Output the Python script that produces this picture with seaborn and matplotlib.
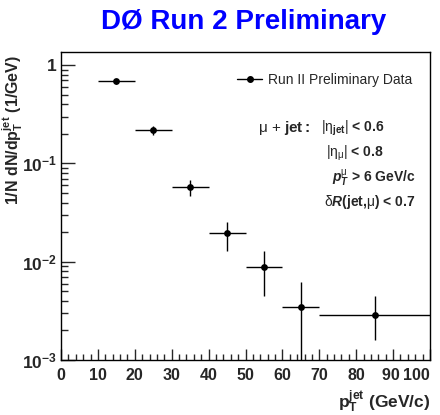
import matplotlib
matplotlib.use("Agg")
import numpy as np
import pandas as pd
import seaborn as sns
import matplotlib.pyplot as plt
from matplotlib.lines import Line2D
from matplotlib.ticker import FixedLocator, LogLocator, MultipleLocator, NullFormatter, FixedFormatter

# ---- data ----
pt_center = [15, 25, 35, 45, 55, 65, 85]
pt_halfwidth = [5, 5, 5, 5, 5, 5, 15]
dndpt = [0.682, 0.217, 0.058, 0.0194, 0.0088, 0.0035, 0.0029]
dndpt_hi = [0.72, 0.239, 0.0684, 0.0255, 0.0130, 0.0062, 0.0045]
dndpt_lo = [0.645, 0.195, 0.0468, 0.0130, 0.0045, 0.0001, 0.0016]
x_ticks = [0, 10, 20, 30, 40, 50, 60, 70, 80, 90, 100]
x_ticklabels = ["0", "10", "20", "30", "40", "50", "60", "70", "80", "90 ", "100"]
y_ticks = [1e-3, 1e-2, 1e-1, 1]
y_ticklabels = [r"$\mathbf{10^{-3}}$", r"$\mathbf{10^{-2}}$", r"$\mathbf{10^{-1}}$", "1"]
legend_label = "Run II Preliminary Data"
title = "DØ Run 2 Preliminary"

sns.set_style("ticks")
plt.rcParams["font.family"] = ["Liberation Sans", "DejaVu Sans"]
plt.rcParams["mathtext.fontset"] = "custom"
plt.rcParams["mathtext.rm"] = "Liberation Sans"
plt.rcParams["mathtext.it"] = "Liberation Sans:italic"
plt.rcParams["mathtext.bf"] = "Liberation Sans:bold"
plt.rcParams["mathtext.bfit"] = "Liberation Sans:bold:italic"
plt.rcParams["mathtext.sf"] = "Liberation Sans"

W, H = 440, 415
fig = plt.figure(figsize=(W / 100, H / 100), dpi=100)
ax = fig.add_axes([61 / W, 55 / H, 369 / W, 308 / H])

df = pd.DataFrame({"pt": pt_center, "y": dndpt})
y = np.array(dndpt)
yerr = [y - np.array(dndpt_lo), np.array(dndpt_hi) - y]
ax.errorbar(pt_center, dndpt, xerr=pt_halfwidth, yerr=yerr, fmt="none",
            ecolor="black", elinewidth=1.0, capsize=0)
sns.scatterplot(data=df, x="pt", y="y", ax=ax, color="black", s=24,
                edgecolor="black", linewidth=0, zorder=5)

ax.set_yscale("log")
ax.set_xlim(0, 100)
ax.set_ylim(1e-3, 1.36)

ax.xaxis.set_major_locator(FixedLocator(x_ticks))
ax.xaxis.set_minor_locator(MultipleLocator(2))
ax.set_xticklabels(x_ticklabels, fontweight="bold", fontsize=11.5)
ax.get_xticklabels()[-1].set_horizontalalignment("right")
ax.yaxis.set_major_locator(FixedLocator(y_ticks))
ax.yaxis.set_major_formatter(FixedFormatter(y_ticklabels))
ax.yaxis.set_minor_locator(LogLocator(base=10, subs=np.arange(2, 10)))
ax.yaxis.set_minor_formatter(NullFormatter())
for lab in ax.get_yticklabels():
    lab.set_fontweight("bold")
    lab.set_fontsize(12.5)

ax.tick_params(axis="x", which="major", direction="in", length=8, width=1, pad=6)
ax.tick_params(axis="x", which="minor", direction="in", length=4, width=1)
ax.tick_params(axis="y", which="major", direction="in", length=10, width=1, pad=3)
ax.tick_params(axis="y", which="minor", direction="in", length=5, width=1)
ax.tick_params(top=False, right=False, which="both")
for s in ax.spines.values():
    s.set_visible(True)
    s.set_linewidth(1.0)
    s.set_color("black")
ax.set_xlabel("")
ax.set_ylabel("")

def ft(x, yy, s, **kw):
    return fig.text(x / W, 1 - yy / H, s, **kw)

ft(430, 402, r"p$_{\mathbf{T}}^{\mathbf{jet}}$ (GeV/c)", fontweight="bold", fontsize=12.5,
   ha="right", va="center")
ft(12.5, 55, r"1/N dN/dp$_{\mathbf{T}}^{\mathbf{jet}}$ (1/GeV)", fontweight="bold", fontsize=11.5,
   rotation=90, ha="center", va="top")

ft(244, 22, title, color="#0000ff", fontsize=20, fontweight="bold", ha="center", va="center")

handle = Line2D([], [], color="black", marker="o", markersize=4, lw=1)
ax.legend([handle], [legend_label], loc="upper left",
          bbox_to_anchor=((237 - 61) / 369, 1 - (73 - 52) / 308),
          frameon=False, fontsize=10, handlelength=1.8, handletextpad=0.45,
          borderaxespad=0, borderpad=0)

ft(258, 128, r"$\mathrm{\mu}$ + $\mathbf{jet:}$", fontsize=11, ha="left", va="center")
ft(384, 128, r"$|\mathrm{\eta}_{\mathbf{jet}}|$ < 0.6", fontsize=10, fontweight="bold", ha="right", va="center")
ft(384, 153, r"$|\mathrm{\eta}_{\mathrm{\mu}}|$ < 0.8", fontsize=10, fontweight="bold", ha="right", va="center")
ft(416, 178, r"$\mathbfit{p}_{\mathbfit{T}}^{\mathrm{\mu}}$ > 6 GeV/c", fontsize=10, fontweight="bold", ha="right", va="center")
ft(416, 202, r"$\mathrm{\delta}\mathbfit{R}$(jet,$\mathrm{\mu}$) < 0.7", fontsize=10, fontweight="bold", ha="right", va="center")

fig.savefig("out.png", dpi=100, facecolor="white")
